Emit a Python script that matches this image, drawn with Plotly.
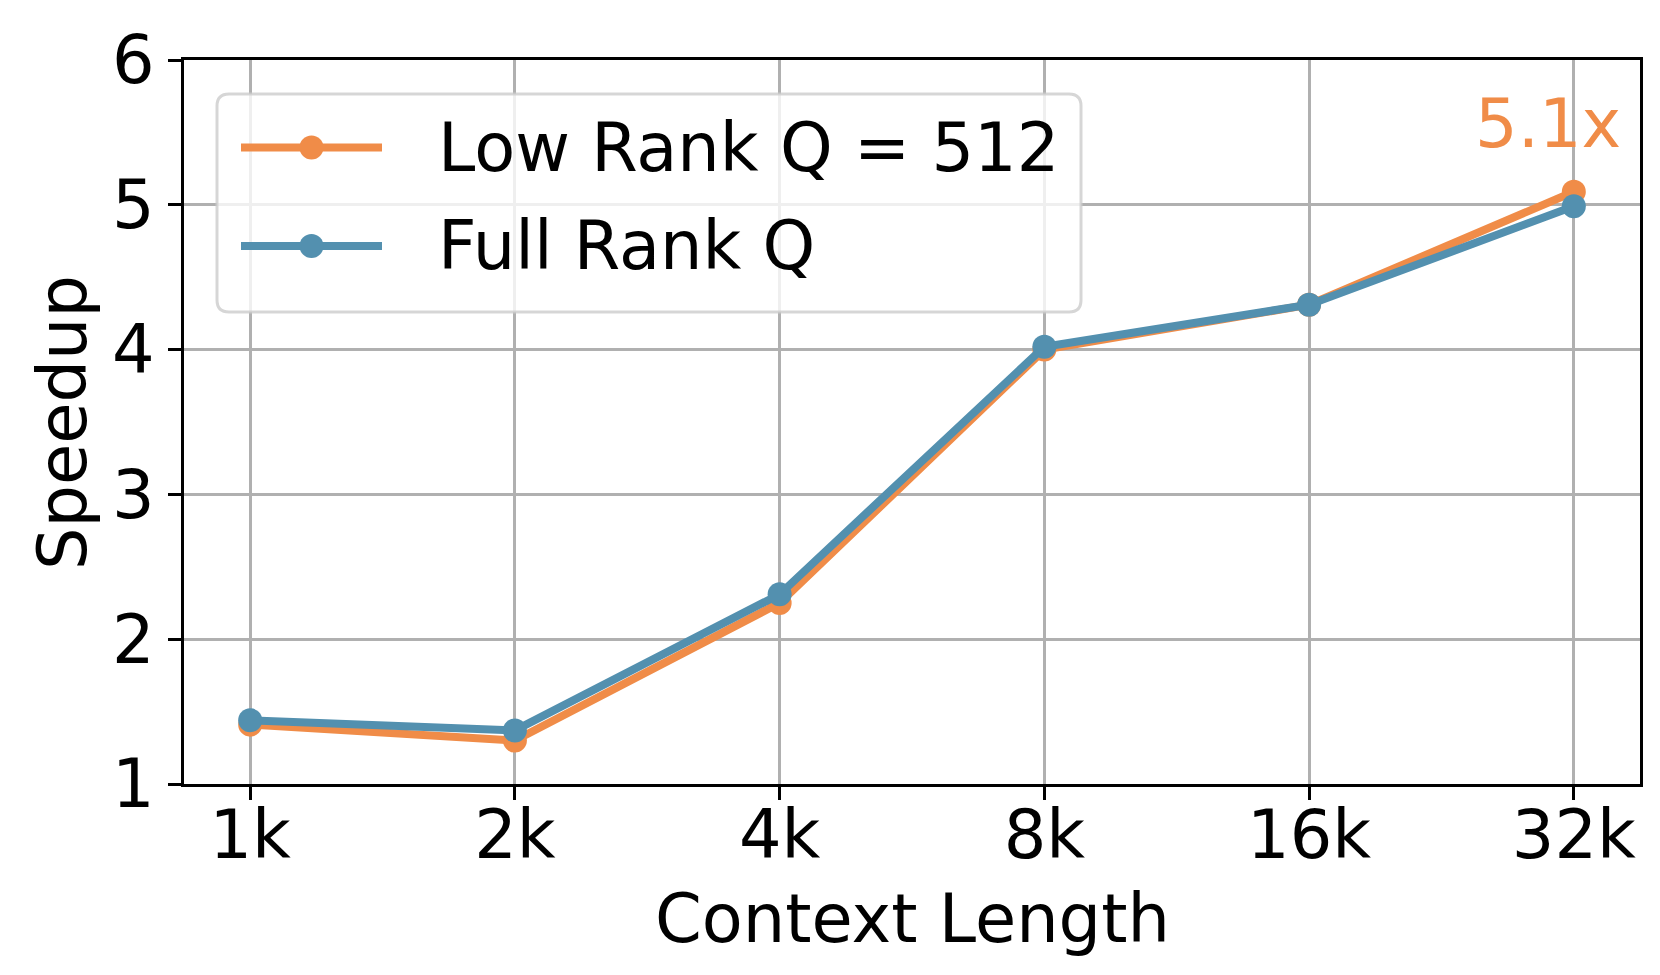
import plotly.graph_objects as go

contexts = ["1k", "2k", "4k", "8k", "16k", "32k"]
low_rank = [1.41, 1.30, 2.25, 4.00, 4.31, 5.09]
full_rank = [1.44, 1.37, 2.31, 4.02, 4.31, 4.99]
names = ["Low Rank Q = 512", "Full Rank Q"]
colors = ["#F08C48", "#5390AF"]

W, H = 1660, 975
L, R, T, B = 176, 28, 52, 199
PW, PH = W - L - R, H - T - B
FONT = "DejaVu Sans"
SIZE = 67


def px_x(p):
    return (p - L) / PW


def px_y(p):
    return (H - B - p) / PH


fig = go.Figure()
for name, vals, col in zip(names, [low_rank, full_rank], colors):
    fig.add_trace(go.Scatter(
        x=contexts, y=vals, name=name, mode="lines+markers",
        line=dict(color=col, width=8),
        marker=dict(color=col, size=24),
        showlegend=False,
    ))

# speedup label on the last point
fig.add_annotation(
    x=contexts[-1], y=low_rank[-1], text=f"{low_rank[-1]:.1f}x",
    showarrow=False, xanchor="center", yanchor="middle",
    xshift=-26, yshift=68,
    font=dict(family=FONT, size=SIZE, color=colors[0]),
)

# legend drawn by hand so the line samples match the original
x0, x1, y0, y1 = px_x(209), px_x(1073), px_y(304), px_y(86)
rx, ry = 12 / PW, 12 / PH
path = (f"M {x0+rx},{y1} L {x1-rx},{y1} Q {x1},{y1} {x1},{y1-ry} "
        f"L {x1},{y0+ry} Q {x1},{y0} {x1-rx},{y0} L {x0+rx},{y0} "
        f"Q {x0},{y0} {x0},{y0+ry} L {x0},{y1-ry} Q {x0},{y1} {x0+rx},{y1} Z")
fig.add_shape(type="path", path=path, xref="paper", yref="paper",
              fillcolor="rgba(255,255,255,0.8)",
              line=dict(color="rgba(204,204,204,0.8)", width=3))

for i, (name, col) in enumerate(zip(names, colors)):
    yy = px_y(139.5 + i * 98.5)
    fig.add_shape(type="line", xref="paper", yref="paper",
                  x0=px_x(233), x1=px_x(374), y0=yy, y1=yy,
                  line=dict(color=col, width=8))
    fig.add_shape(type="circle", xref="paper", yref="paper",
                  xsizemode="pixel", ysizemode="pixel",
                  xanchor=px_x(303.5), yanchor=yy,
                  x0=-12, x1=12, y0=-12, y1=12,
                  fillcolor=col, line=dict(color=col, width=0))
    fig.add_annotation(x=px_x(428), y=yy, xref="paper", yref="paper",
                       text=name, showarrow=False,
                       xanchor="left", yanchor="middle",
                       font=dict(family=FONT, size=SIZE, color="black"))

# axis titles
fig.add_annotation(x=0.5, y=px_y(911), xref="paper", yref="paper",
                   text="Context Length", showarrow=False,
                   xanchor="center", yanchor="middle",
                   font=dict(family=FONT, size=SIZE, color="black"))
fig.add_annotation(x=px_x(55), y=px_y(415), xref="paper", yref="paper",
                   text="Speedup", showarrow=False, textangle=-90,
                   xanchor="center", yanchor="middle",
                   font=dict(family=FONT, size=SIZE, color="black"))

axis_common = dict(
    showline=True, linecolor="black", linewidth=3, mirror=True,
    ticks="outside", ticklen=13, tickwidth=3, tickcolor="black",
    showgrid=True, gridcolor="#b0b0b0", gridwidth=2.5,
    tickfont=dict(family=FONT, size=SIZE, color="black"),
    zeroline=False,
)

fig.update_xaxes(type="category", range=[-0.25, 5.25],
                 ticklabelstandoff=-22, **axis_common)
fig.update_yaxes(range=[1, 6], dtick=1, **axis_common)

fig.update_layout(
    width=W, height=H,
    margin=dict(l=L, r=R, t=T, b=B),
    plot_bgcolor="white", paper_bgcolor="white",
    font=dict(family=FONT, color="black"),
)

fig.write_html("out.html")
